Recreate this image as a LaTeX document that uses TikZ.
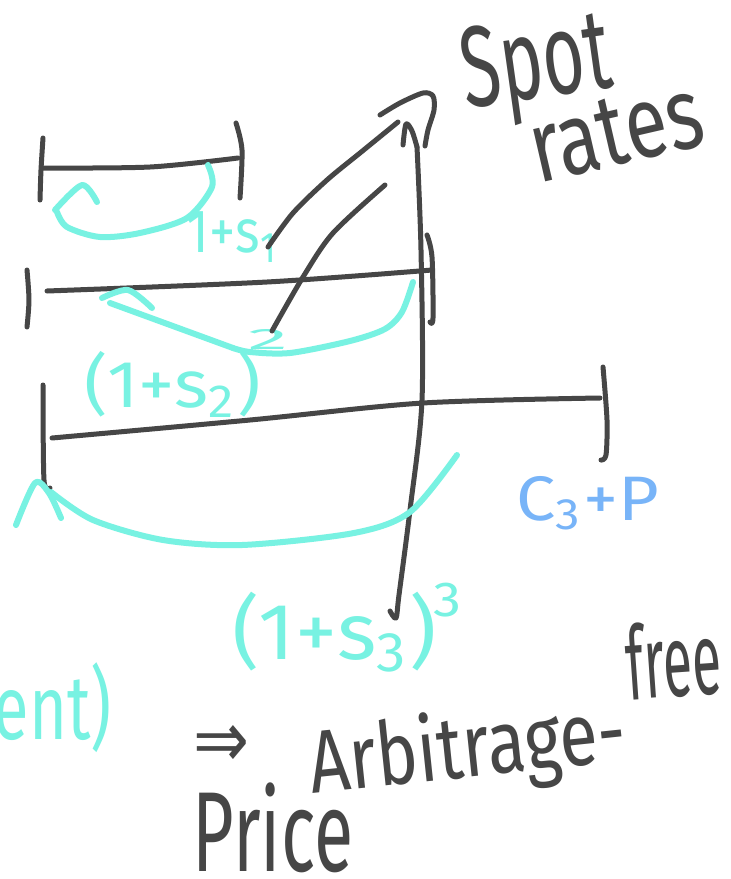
\documentclass[tikz,border=0pt]{standalone}
\usepackage{fontspec}
\usepackage{graphicx}
\setmainfont{Fira Sans}
\newfontfamily\symfnt{DejaVu Sans}
\definecolor{ink}{RGB}{70,70,70}
\definecolor{cyanc}{RGB}{120,242,226}
\definecolor{bluec}{RGB}{120,180,248}
\tikzset{
  inkline/.style={draw=ink, line width=5pt, line cap=round, line join=round},
  hlline/.style={draw=cyanc, line width=6pt, line cap=round, line join=round},
  txt/.style={inner sep=0pt, outer sep=0pt},
}
\begin{document}
\begin{tikzpicture}[x=1pt,y=-1pt]
\fill[white] (0,0) rectangle (731,879);
\useasboundingbox (0,0) rectangle (731,879);

% ---------- text ----------
\node[txt, ink, rotate=8] (spot) at (537,70) {\resizebox*{150pt}{105pt}{Spot}};
\node[txt, ink, rotate=13] (rates) at (616,132) {\resizebox*{175pt}{68pt}{rates}};
\node[txt, cyanc] (s1) at (233,237) {\resizebox*{92pt}{50pt}{1+s\textsubscript{1}}};
\node[txt, cyanc] (s2) at (173,384) {\resizebox*{176pt}{66pt}{(1+s\textsubscript{2})}};
\node[txt, cyanc] (s2e) at (268,339) {\resizebox*{40pt}{20pt}{2}};
\node[txt, cyanc] (s3) at (335,632) {\resizebox*{204pt}{80pt}{(1+s\textsubscript{3})}};
\node[txt, cyanc] (s3e) at (448,600) {\resizebox*{28pt}{34pt}{3}};
\node[txt, bluec] (c3p) at (588,503) {\resizebox*{143pt}{54pt}{C\textsubscript{3}+P}};
\node[txt, cyanc, anchor=east] (ent) at (112,708) {\resizebox*{118pt}{90pt}{ent)}};
\node[txt, ink] (impl) at (221,746) {\resizebox*{56pt}{42pt}{\symfnt ⇒}};
\node[txt, ink, rotate=6] (arb) at (468,752) {\resizebox*{318pt}{88pt}{Arbitrage-}};
\node[txt, ink, rotate=4] (free) at (673,659) {\resizebox*{95pt}{78pt}{free}};
\node[txt, ink] (price) at (273,828) {\resizebox*{160pt}{90pt}{Price}};

% ---------- timelines (black) ----------
\draw[inkline] plot[smooth] coordinates {(43,168) (150,167) (238,158)};
\draw[inkline] plot[smooth] coordinates {(43,138) (41,170) (40,200)};
\draw[inkline] plot[smooth] coordinates {(236,123) (242,150) (240,198)};

\draw[inkline] plot[smooth] coordinates {(47,291) (267,282) (432,270)};
\draw[inkline] plot[smooth] coordinates {(27,270) (29,300) (27,327)};
\draw[inkline] plot[smooth] coordinates {(427,235) (432,257) (433,318) (430,322)};

\draw[inkline] plot[smooth] coordinates {(52,438) (250,420) (423,403) (600,398)};
\draw[inkline] plot[smooth] coordinates {(43,385) (44,480) (50,488)};
\draw[inkline] plot[smooth] coordinates {(603,367) (607,420) (606,455) (601,460)};

% ---------- connectors to spot rates ----------
\coordinate (top) at (417,147);
\coordinate (hook) at (390,611);
\coordinate (c1) at (268,247);
\coordinate (c1e) at (398,122);
\coordinate (c2) at (272,331);
\coordinate (c2e) at (385,185);
\draw[inkline] plot[smooth] coordinates {(hook) (396,618) (399,595) (410,510) (422,400) (421,250) (top)};
\draw[inkline] plot[smooth] coordinates {(top) (412,131) (406,124) (403,145)};
\draw[inkline] plot[smooth] coordinates {(c1) (293,213) (327,180) (360,153) (c1e)};
\draw[inkline] plot[smooth] coordinates {(c2) (303,277) (333,233) (c2e)};
\draw[inkline] plot[smooth] coordinates {(380,115) (400,103) (423,93) (433,96) (434,110) (428,130) (425,146)};

% ---------- highlight arcs (cyan) ----------
\draw[hlline] plot[smooth] coordinates {(208,165) (212,187) (187,218) (140,233) (100,237) (67,227) (57,212)};
\draw[hlline] plot[smooth] coordinates {(55,210) (82,185) (97,202)};

\draw[hlline] plot[smooth] coordinates {(413,282) (402,312) (385,329) (350,341) (290,353) (250,352) (233,348)};
\draw[hlline] (233,348) -- (110,303);
\draw[hlline] plot[smooth] coordinates {(102,298) (128,290) (152,308)};

\draw[hlline] plot[smooth] coordinates {(457,455) (410,512) (354,533) (242,545) (163,540) (93,520) (51,492)};
\draw[hlline] plot[smooth] coordinates {(16,525) (35,483) (49,493) (61,518)};
\end{tikzpicture}
\end{document}
